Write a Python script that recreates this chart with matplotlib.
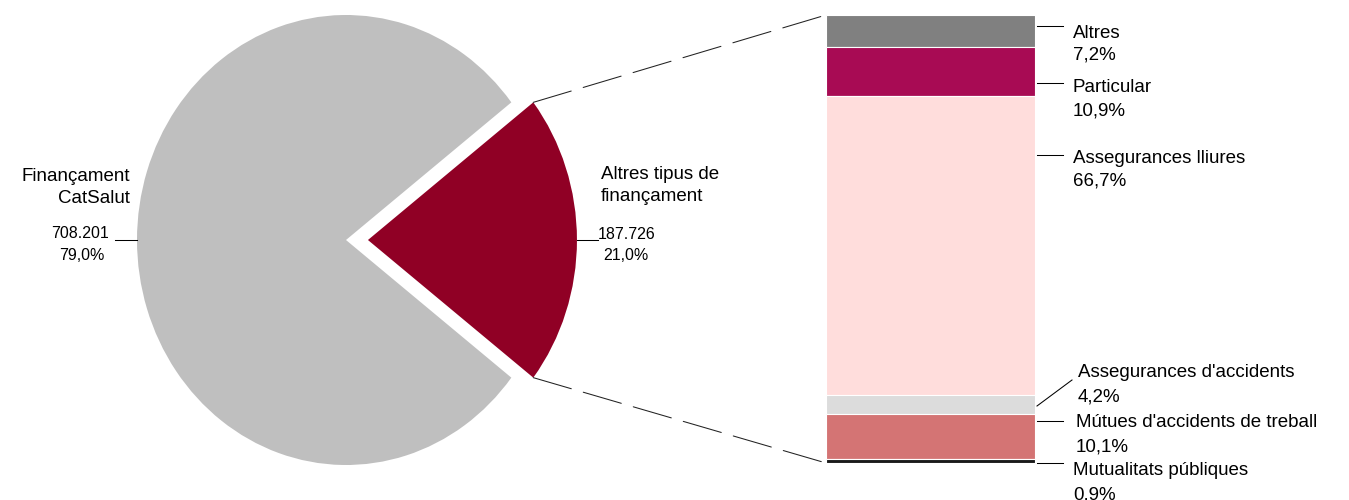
import matplotlib.pyplot as plt
from matplotlib.patches import ConnectionPatch
import numpy as np

plt.rcParams['font.family'] = ['Liberation Sans', 'DejaVu Sans']

# pie data
pie_names = ['Altres tipus de\nfinançament', 'Finançament\nCatSalut']
pie_values = [187726, 708201]
pie_values_txt = ['187.726', '708.201']
pie_pct_txt = ['21,0%', '79,0%']
pie_colors = ['#900025', '#BFBFBF']

# breakdown of "Altres tipus de finançament" (top to bottom)
bar_names = ['Altres', 'Particular', 'Assegurances lliures',
             "Assegurances d'accidents", "Mútues d'accidents de treball",
             'Mutualitats públiques']
bar_pct = [7.2, 10.9, 66.7, 4.2, 10.1, 0.9]
bar_colors = ['#808080', '#A80B54', '#FFDDDC', '#DCDCDC', '#D47474', '#1A1A1A']

W, H = 1349, 500
fig = plt.figure(figsize=(W / 100, H / 100), dpi=100)

def px_axes(x0, y0, w, h):
    # axes placed by pixel box (top-left origin)
    return fig.add_axes([x0 / W, (H - y0 - h) / H, w / W, h / H])

# pie (slightly taller than wide, like the original)
rx, ry = 209, 225
ax_pie = px_axes(137, 15, rx * 2.25, ry * 2)
frac = pie_values[0] / sum(pie_values)
wedges, _ = ax_pie.pie(pie_values, colors=pie_colors, startangle=-frac * 180,
                       explode=[0.105, 0], radius=1, center=(0, 0))
ax_pie.set_aspect('auto')
ax_pie.set_xlim(-1, 1.25)
ax_pie.set_ylim(-1, 1)
ax_pie.axis('off')

# stacked bar
ax_bar = px_axes(826, 15, 209, 448)
cum = np.concatenate([[0], np.cumsum(bar_pct)[:-1]])
ax_bar.bar(0, bar_pct, bottom=cum, width=1, color=bar_colors,
           edgecolor='white', linewidth=0.8)
ax_bar.set_xlim(-0.5, 0.5)
ax_bar.set_ylim(100, 0)
ax_bar.axis('off')

# dashed connectors from red wedge to bar
th = np.deg2rad(frac * 180)
for sgn, yb in [(1, 0), (-1, 100)]:
    xa = 0.105 + np.cos(th)
    ya = sgn * np.sin(th)
    con = ConnectionPatch(xyA=(xa, ya), coordsA=ax_pie.transData,
                          xyB=(-0.5, yb), coordsB=ax_bar.transData,
                          color='#222222', linewidth=0.75,
                          linestyle=(0, (38, 12)))
    fig.add_artist(con)

# overlay for labels (pixel coords)
ax = fig.add_axes([0, 0, 1, 1], zorder=5)
ax.set_xlim(0, W)
ax.set_ylim(H, 0)
ax.axis('off')

fs_name = 13.5
fs_num = 11.5
lw = 0.75

# pie labels
ax.text(130, 203, pie_names[1], ha='right', va='baseline', fontsize=fs_name,
        multialignment='right', linespacing=1.4)
ax.text(80, 238, pie_values_txt[1], ha='center', va='baseline', fontsize=fs_num)
ax.text(82, 260, pie_pct_txt[1], ha='center', va='baseline', fontsize=fs_num)
ax.plot([115, 137], [240, 240], color='black', lw=lw)

ax.text(601, 201, pie_names[0], ha='left', va='baseline', fontsize=fs_name,
        linespacing=1.4)
ax.text(598, 239, pie_values_txt[0], ha='left', va='baseline', fontsize=fs_num)
ax.text(603, 260, pie_pct_txt[0], ha='left', va='baseline', fontsize=fs_num)
ax.plot([577, 598], [240, 240], color='black', lw=lw)

# bar labels
label_x = [1073, 1073, 1073, 1078, 1076, 1073]
name_base = [38, 92, 163, 377, 427, 475]
pct_base = [60, 115, 185, 402, 452, 499]
line_y = [26, 83, 155, None, 421, 463]
for i, name in enumerate(bar_names):
    ax.text(label_x[i], name_base[i], name, ha='left', va='baseline',
            fontsize=fs_name)
    ax.text(label_x[i], pct_base[i], ('%.1f%%' % bar_pct[i]).replace('.', ','),
            ha='left', va='baseline', fontsize=fs_name)
    if line_y[i] is not None:
        ax.plot([1037, 1063], [line_y[i], line_y[i]], color='black', lw=lw)
ax.plot([1037, 1072], [406, 380], color='black', lw=lw)

fig.savefig('out.png', dpi=100)
